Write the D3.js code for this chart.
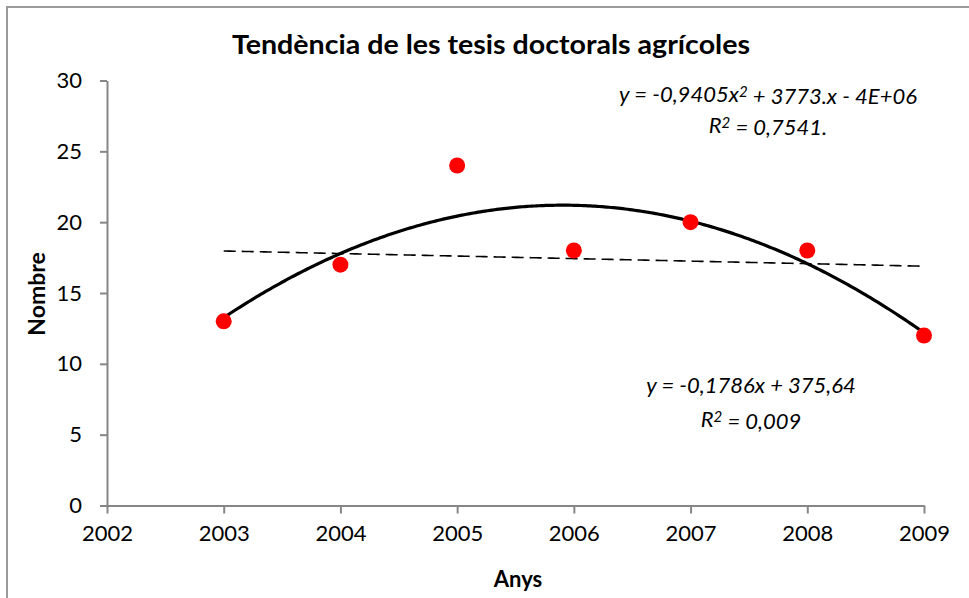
<!DOCTYPE html>
<html>
<head>
<meta charset="utf-8">
<script src="https://cdn.jsdelivr.net/npm/d3@7"></script>
<style>
  html, body { margin: 0; padding: 0; background: #fff; }
  svg { display: block; font-family: Lato, "Open Sans", sans-serif; }
</style>
</head>
<body>
<svg id="chart" width="969" height="598"></svg>
<script>
// Doctoral theses per year
const years = [2003, 2004, 2005, 2006, 2007, 2008, 2009];
const counts = [13, 17, 24, 18, 20, 18, 12];

// Axis ticks
const xTicks = [2002, 2003, 2004, 2005, 2006, 2007, 2008, 2009];
const yTicks = [0, 5, 10, 15, 20, 25, 30];

// Text (each line split into [text, isSuperscript] runs)
const titleText = "Tendència de les tesis doctorals agrícoles";
const xLabel = "Anys";
const yLabel = "Nombre";
const polyEq = [
  [["y = -0,9405x", false], ["2", true], [" + 3773.x - 4E+06", false]],
  [["R", false], ["2", true], [" = 0,7541.", false]]
];
const linEq = [
  [["y = -0,1786x + 375,64", false]],
  [["R", false], ["2", true], [" = 0,009", false]]
];

const svg = d3.select("#chart");

// Chart area frame
svg.append("rect")
  .attr("x", 7).attr("y", 7)
  .attr("width", 1000).attr("height", 700)
  .attr("fill", "#fff")
  .attr("stroke", "#9a9a9a").attr("stroke-width", 2);

const x = d3.scaleLinear().domain([2002, 2009]).range([107, 924]);
const y = d3.scaleLinear().domain([0, 30]).range([505.5, 80.5]);

// Least-squares fits (centred on the mean year)
const n = years.length;
const xm = d3.mean(years);
const t = years.map(v => v - xm);
const St2 = d3.sum(t, v => v * v);
const St4 = d3.sum(t, v => v ** 4);
const Sy = d3.sum(counts);
const Sty = d3.sum(t, (v, i) => v * counts[i]);
const St2y = d3.sum(t, (v, i) => v * v * counts[i]);
// linear
const linB = Sty / St2;
const linA = Sy / n;
const linFn = xv => linA + linB * (xv - xm);
// quadratic (odd moments vanish for symmetric years)
const qC = (n * St2y - St2 * Sy) / (n * St4 - St2 * St2);
const qA = (Sy - qC * St2) / n;
const qB = Sty / St2;
const quadFn = xv => { const d = xv - xm; return qA + qB * d + qC * d * d; };

const xs = d3.range(0, 301).map(i => years[0] + (years[n - 1] - years[0]) * i / 300);

const axisColor = "#868686";

// Axes
const yAxis = svg.append("g")
  .attr("transform", `translate(${x(2002)},0)`)
  .call(d3.axisLeft(y).tickValues(yTicks).tickSize(7).tickSizeOuter(0).tickPadding(18).tickFormat(d3.format("d")));
const xAxis = svg.append("g")
  .attr("transform", `translate(0,${y(0)})`)
  .call(d3.axisBottom(x).tickValues(xTicks).tickSize(8).tickSizeOuter(0).tickPadding(12).tickFormat(d3.format("d")));
[yAxis, xAxis].forEach(g => {
  g.select(".domain").attr("stroke", axisColor).attr("stroke-width", 2);
  g.selectAll(".tick line").attr("stroke", axisColor).attr("stroke-width", 2);
  g.selectAll(".tick text").attr("fill", "#000").style("font-size", "22px").style("font-family", "Lato, sans-serif");
});

// Linear trend (dashed)
svg.append("path")
  .datum(xs)
  .attr("d", d3.line().x(d => x(d)).y(d => y(linFn(d))))
  .attr("fill", "none").attr("stroke", "#000")
  .attr("stroke-width", 1.6).attr("stroke-dasharray", "12,6");

// Polynomial trend
svg.append("path")
  .datum(xs)
  .attr("d", d3.line().x(d => x(d)).y(d => y(quadFn(d))))
  .attr("fill", "none").attr("stroke", "#000")
  .attr("stroke-width", 3.2);

// Data points
svg.selectAll("circle.pt")
  .data(years)
  .join("circle")
  .attr("class", "pt")
  .attr("cx", d => x(d))
  .attr("cy", (d, i) => y(counts[i]))
  .attr("r", 8)
  .attr("fill", "#ff0000");

// Title
svg.append("text")
  .attr("x", 491).attr("y", 54)
  .attr("text-anchor", "middle")
  .attr("textLength", 518).attr("lengthAdjust", "spacingAndGlyphs")
  .style("font-size", "26px").style("font-weight", "bold")
  .text(titleText);

// Axis titles
svg.append("text")
  .attr("x", 518).attr("y", 587)
  .attr("text-anchor", "middle")
  .style("font-size", "22px").style("font-weight", "bold")
  .text(xLabel);
svg.append("text")
  .attr("transform", "translate(45,294) rotate(-90)")
  .attr("text-anchor", "middle")
  .style("font-size", "23px").style("font-weight", "bold")
  .text(yLabel);

// Trendline equations
function eqBlock(lines, cx, y0, dy) {
  lines.forEach((runs, i) => {
    const txt = svg.append("text")
      .attr("x", cx).attr("y", y0 + i * dy)
      .attr("text-anchor", "middle")
      .style("font-size", "22px").style("font-style", "italic");
    runs.forEach(([s, sup]) => {
      const ts = txt.append("tspan").text(s);
      if (sup) ts.attr("dy", "-0.33em").style("font-size", "15px");
      else if (txt.selectAll("tspan").size() > 1) ts.attr("dy", "0.33em");
    });
  });
}
eqBlock(polyEq, 768, 102, 31);
eqBlock(linEq, 751, 393, 34);
</script>
</body>
</html>
